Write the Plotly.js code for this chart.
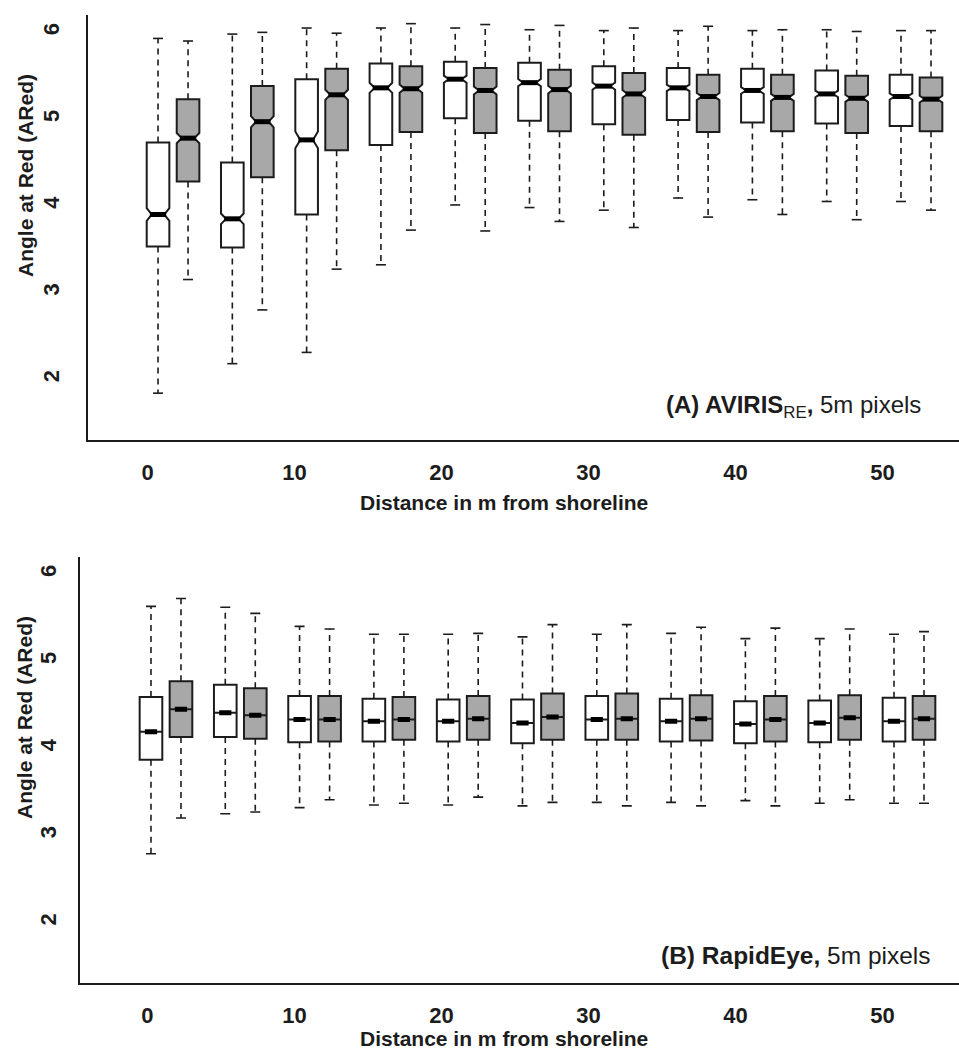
<!DOCTYPE html>
<html>
<head>
<meta charset="utf-8">
<script src="https://cdn.plot.ly/plotly-3.0.1.min.js"></script>
<style>
html,body{margin:0;padding:0;background:#ffffff;}
#chart{width:959px;height:1051px;}
</style>
</head>
<body>
<div id="chart"></div>
<script>
// ---------------- data ----------------
const distances = [0, 5, 10, 15, 20, 25, 30, 35, 40, 45, 50];
const xTickVals = [0, 10, 20, 30, 40, 50];
const xTickText = ['0', '10', '20', '30', '40', '50'];
const yTickVals = [2, 3, 4, 5, 6];
const yTickText = ['2', '3', '4', '5', '6'];

// Panel A: AVIRIS_RE - white boxes
const aWhiteUpper = [5.93, 5.98, 6.05, 6.05, 6.05, 6.03, 6.02, 6.02, 6.02, 6.03, 6.02];
const aWhiteQ3    = [4.73, 4.50, 5.46, 5.64, 5.66, 5.65, 5.61, 5.59, 5.58, 5.56, 5.51];
const aWhiteMed   = [3.90, 3.85, 4.76, 5.36, 5.46, 5.42, 5.38, 5.36, 5.33, 5.29, 5.26];
const aWhiteQ1    = [3.53, 3.52, 3.90, 4.70, 5.01, 4.98, 4.94, 4.99, 4.96, 4.95, 4.92];
const aWhiteLower = [1.84, 2.18, 2.31, 3.32, 4.01, 3.98, 3.95, 4.09, 4.07, 4.05, 4.05];
// Panel A: AVIRIS_RE - grey boxes
const aGreyUpper = [5.90, 6.00, 5.99, 6.10, 6.09, 6.08, 6.05, 6.07, 6.03, 6.01, 6.02];
const aGreyQ3    = [5.23, 5.38, 5.58, 5.61, 5.59, 5.57, 5.53, 5.51, 5.51, 5.50, 5.48];
const aGreyMed   = [4.78, 4.97, 5.28, 5.35, 5.33, 5.34, 5.29, 5.26, 5.25, 5.24, 5.23];
const aGreyQ1    = [4.28, 4.33, 4.64, 4.85, 4.84, 4.86, 4.82, 4.85, 4.86, 4.84, 4.86];
const aGreyLower = [3.15, 2.80, 3.27, 3.72, 3.71, 3.82, 3.75, 3.87, 3.90, 3.84, 3.95];

// Panel B: RapidEye - white boxes
const bWhiteUpper = [5.63, 5.62, 5.40, 5.31, 5.31, 5.28, 5.31, 5.32, 5.26, 5.26, 5.31];
const bWhiteQ3    = [4.59, 4.73, 4.60, 4.57, 4.56, 4.56, 4.60, 4.57, 4.54, 4.55, 4.58];
const bWhiteMed   = [4.19, 4.41, 4.33, 4.31, 4.31, 4.29, 4.33, 4.31, 4.28, 4.29, 4.31];
const bWhiteQ1    = [3.87, 4.13, 4.07, 4.08, 4.08, 4.06, 4.10, 4.08, 4.06, 4.07, 4.08];
const bWhiteLower = [2.79, 3.25, 3.32, 3.35, 3.35, 3.34, 3.38, 3.38, 3.40, 3.37, 3.37];
// Panel B: RapidEye - grey boxes
const bGreyUpper = [5.72, 5.55, 5.37, 5.31, 5.32, 5.42, 5.42, 5.39, 5.38, 5.37, 5.34];
const bGreyQ3    = [4.77, 4.69, 4.60, 4.59, 4.60, 4.63, 4.63, 4.61, 4.60, 4.61, 4.60];
const bGreyMed   = [4.45, 4.38, 4.33, 4.33, 4.34, 4.36, 4.34, 4.34, 4.33, 4.35, 4.34];
const bGreyQ1    = [4.13, 4.11, 4.08, 4.10, 4.10, 4.10, 4.10, 4.09, 4.08, 4.10, 4.10];
const bGreyLower = [3.20, 3.27, 3.41, 3.37, 3.44, 3.38, 3.34, 3.34, 3.34, 3.41, 3.37];

const xTitle = 'Distance in m from shoreline';
const yTitle = 'Angle at Red (ARed)';
const labelA = '<b>(A) AVIRIS</b><sub>RE</sub><b>,</b> 5m pixels';
const labelB = '<b>(B) RapidEye,</b> 5m pixels';

// ---------------- styling / placement ----------------
const W = 959, H = 1051;
const FONT = 'Liberation Sans, Arial, Helvetica, sans-serif';
const INK = '#1c1c1c';
const GREY_FILL = '#a8a8a8';
const BOX_W = 1.54;       // box width in axis units (m)
const PITCH = 1.0108;     // horizontal spacing factor of box groups
const CAP_HALF = 0.34;    // half width of whisker staples

function series(upper, q3, med, q1, lower) {
  return {upper, q3, med, q1, lower};
}

const panels = [
  {
    xa: 'x', ya: 'y', notched: true, medHalf: 0.36,
    offWhite: 0.714, offGrey: 2.755,
    white: series(aWhiteUpper, aWhiteQ3, aWhiteMed, aWhiteQ1, aWhiteLower),
    grey: series(aGreyUpper, aGreyQ3, aGreyMed, aGreyQ1, aGreyLower)
  },
  {
    xa: 'x2', ya: 'y2', notched: false, medHalf: 0.27,
    offWhite: 0.238, offGrey: 2.279,
    white: series(bWhiteUpper, bWhiteQ3, bWhiteMed, bWhiteQ1, bWhiteLower),
    grey: series(bGreyUpper, bGreyQ3, bGreyMed, bGreyQ1, bGreyLower)
  }
];

const traces = [];
panels.forEach(p => {
  [['white', '#ffffff', p.offWhite], ['grey', GREY_FILL, p.offGrey]].forEach(([key, fill, off]) => {
    const s = p[key];
    const pos = distances.map(d => off + d * PITCH);
    const box = {
      type: 'box', xaxis: p.xa, yaxis: p.ya,
      x: pos, q1: s.q1, median: s.med, q3: s.q3,
      lowerfence: s.q1, upperfence: s.q3,
      width: BOX_W, fillcolor: fill,
      line: {color: INK, width: 2},
      whiskerwidth: 0, boxpoints: false,
      hoverinfo: 'skip', showlegend: false
    };
    if (p.notched) {
      box.notched = true;
      box.notchwidth = 0.22;
      box.notchspan = s.q3.map((v, i) => 0.062 * (v - s.q1[i]));
    }
    const wx = [], wy = [], cx = [], cy = [], mx = [], my = [];
    pos.forEach((c, i) => {
      wx.push(c, c, null, c, c, null);
      wy.push(s.q3[i], s.upper[i], null, s.q1[i], s.lower[i], null);
      cx.push(c - CAP_HALF, c + CAP_HALF, null, c - CAP_HALF, c + CAP_HALF, null);
      cy.push(s.upper[i], s.upper[i], null, s.lower[i], s.lower[i], null);
      const h = p.medHalf * BOX_W;
      mx.push(c - h, c + h, null);
      my.push(s.med[i], s.med[i], null);
    });
    // dashed whiskers
    traces.push({
      type: 'scatter', mode: 'lines', xaxis: p.xa, yaxis: p.ya,
      x: wx, y: wy, line: {color: INK, width: 1.6, dash: '6px,5px'},
      hoverinfo: 'skip', showlegend: false
    });
    // staples
    traces.push({
      type: 'scatter', mode: 'lines', xaxis: p.xa, yaxis: p.ya,
      x: cx, y: cy, line: {color: INK, width: 1.6},
      hoverinfo: 'skip', showlegend: false
    });
    traces.push(box);
    // thick median bars
    traces.push({
      type: 'scatter', mode: 'lines', xaxis: p.xa, yaxis: p.ya,
      x: mx, y: my, line: {color: '#000000', width: 5},
      hoverinfo: 'skip', showlegend: false
    });
  });
});

function xAxis(domain, range, anchor) {
  return {
    domain, range, anchor, type: 'linear',
    showline: true, linewidth: 2, linecolor: INK, mirror: false,
    showgrid: false, zeroline: false, ticks: '',
    tickmode: 'array', tickvals: xTickVals, ticktext: xTickText,
    tickfont: {family: FONT, size: 22, color: INK, weight: 'bold'},
    ticklabelstandoff: 12,
    automargin: false, fixedrange: true
  };
}
function yAxis(domain, range, anchor, standoff) {
  return {
    domain, range, anchor, type: 'linear',
    showline: true, linewidth: 2, linecolor: INK, mirror: false,
    showgrid: false, zeroline: false, ticks: '',
    tickmode: 'array', tickvals: yTickVals, ticktext: yTickText,
    tickangle: -90,
    tickfont: {family: FONT, size: 22, color: INK, weight: 'bold'},
    ticklabelstandoff: standoff,
    automargin: false, fixedrange: true
  };
}

const titleFont = {family: FONT, size: 21, color: INK, weight: 'bold'};
function paperY(px) { return 1 - px / H; }

const layout = {
  width: W, height: H,
  margin: {l: 0, r: 0, t: 0, b: 0},
  paper_bgcolor: '#ffffff', plot_bgcolor: '#ffffff',
  font: {family: FONT, color: INK},
  showlegend: false,
  boxmode: 'overlay',
  xaxis: xAxis([88 / W, 1], [-4.05, 55.2], 'y'),
  yaxis: yAxis([paperY(440), paperY(15)], [1.30, 6.20], 'x', 18),
  xaxis2: xAxis([80 / W, 1], [-4.59, 55.2], 'y2'),
  yaxis2: yAxis([paperY(982.7), paperY(556.7)], [1.31, 6.20], 'x2', 13),
  annotations: [
    // axis titles
    {xref: 'paper', yref: 'paper', x: 504 / W, y: paperY(502), xanchor: 'center', yanchor: 'middle',
     text: xTitle, showarrow: false, font: titleFont},
    {xref: 'paper', yref: 'paper', x: 504 / W, y: 0, xanchor: 'center', yanchor: 'bottom', borderpad: 0,
     text: xTitle, showarrow: false, font: titleFont},
    {xref: 'paper', yref: 'paper', x: 26 / W, y: paperY(176), xanchor: 'center', yanchor: 'middle',
     text: yTitle, textangle: -90, showarrow: false, font: titleFont},
    {xref: 'paper', yref: 'paper', x: 24 / W, y: paperY(718), xanchor: 'center', yanchor: 'middle',
     text: yTitle, textangle: -90, showarrow: false, font: titleFont},
    // panel labels
    {xref: 'paper', yref: 'paper', x: 923 / W, y: paperY(406.7), xanchor: 'right', yanchor: 'middle',
     text: labelA, showarrow: false, font: {family: FONT, size: 24, color: INK}},
    {xref: 'paper', yref: 'paper', x: 933 / W, y: paperY(955), xanchor: 'right', yanchor: 'middle',
     text: labelB, showarrow: false, font: {family: FONT, size: 24.5, color: INK}}
  ]
};

Plotly.newPlot('chart', traces, layout, {staticPlot: true, displayModeBar: false});
</script>
</body>
</html>
